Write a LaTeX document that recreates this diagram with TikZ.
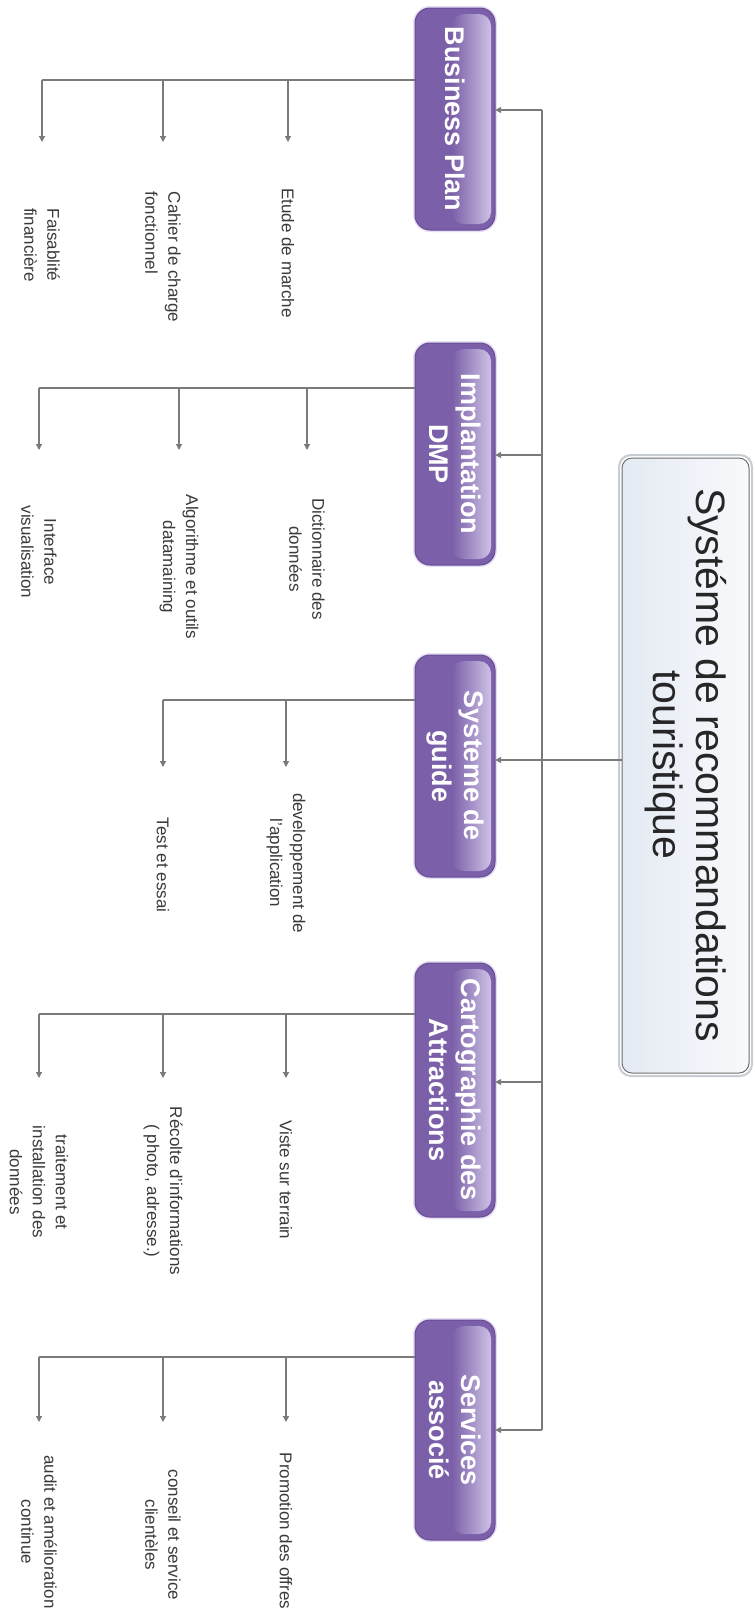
\documentclass[tikz,border=0pt]{standalone}
\usepackage{fontspec}
\setmainfont{Liberation Sans}
\usetikzlibrary{arrows.meta,calc}

\definecolor{phasefill}{HTML}{7B60A9}
\definecolor{phaseedge}{HTML}{674C95}
\definecolor{phaselight}{HTML}{CDC1E5}
\definecolor{phaseglow}{HTML}{E6DEF3}
\definecolor{rootedge}{HTML}{6E6E6E}
\definecolor{rootframe}{HTML}{C7CBD2}
\definecolor{rootleft}{HTML}{E4EAF3}
\definecolor{rootright}{HTML}{F8F9FC}
\definecolor{wire}{HTML}{7A7A7A}
\definecolor{leaftext}{HTML}{3A3A3A}

\tikzset{
  phaseglowbox/.style={draw=phaseglow, line width=4pt, rounded corners=15pt},
  phasebox/.style={fill=phasefill, draw=phaseedge, line width=1pt, rounded corners=15pt},
  gloss/.style={left color=phasefill, right color=phaselight, rounded corners=12pt},
  phaselabel/.style={rotate=-90, minimum height=80pt, inner sep=0pt, align=center,
    text=white, font=\bfseries\fontsize{27}{32}\selectfont},
  leaf/.style={rotate=-90, inner sep=0pt, align=center, text=leaftext,
    font=\fontsize{17}{23}\selectfont},
  conn/.style={draw=wire, line width=1.2pt},
  arr/.style={conn, -{Triangle[length=6pt,width=6pt]}},
}

% one purple phase box: name, top, bottom, label
\newcommand\mkphase[4]{%
  \path[phaseglowbox] (415,#2) rectangle (495,#3);
  \path[phasebox] (415,#2) rectangle (495,#3);
  \shade[gloss] (452,{#2+6}) rectangle (491,{#3-6});
  \node[phaselabel, minimum width={(#3-#2)*1pt}] (#1) at (455,{(#2+#3)/2}) {#4};
}

\begin{document}
\begin{tikzpicture}[x=1pt,y=-1pt]
\useasboundingbox (0,0) rectangle (755,1620);
\fill[white] (0,0) rectangle (755,1620);

% root box
\path[draw=rootframe, line width=2pt, rounded corners=12pt] (619,455) rectangle (752,1076);
\shadedraw[left color=rootleft, right color=rootright, draw=rootedge, line width=1pt,
  rounded corners=10pt] (622,458) rectangle (749,1073);
\node[rotate=-90, minimum width=615pt, minimum height=127pt, inner sep=0pt, align=center,
  text=black!85, font=\fontsize{41}{43}\selectfont] (root) at (685.5,765)
  {Systéme de recommandations\\touristique};

% phase boxes
\mkphase{bp}{8}{230}{Business Plan}
\mkphase{im}{343}{565}{Implantation\\DMP}
\mkphase{sg}{655}{877}{Systeme de\\guide}
\mkphase{ca}{963}{1217}{Cartographie des\\Attractions}
\mkphase{sv}{1320}{1540}{Services\\associé}

% trunk from the root to every phase
\coordinate (t1) at (542,110);
\coordinate (t2) at (542,455);
\coordinate (t3) at (542,760);
\coordinate (t4) at (542,1082);
\coordinate (t5) at (542,1430);
\draw[conn] (t1) -- (t5);
\draw[arr] (t3 -| root.south) -- (t3 -| sg.north);
\draw[arr] (t1) -- (t1 -| bp.north);
\draw[arr] (t2) -- (t2 -| im.north);
\draw[arr] (t4) -- (t4 -| ca.north);
\draw[arr] (t5) -- (t5 -| sv.north);

% tasks
\node[leaf] (bp1) at (288,253) {Etude de marche};
\node[leaf, align=left] (bp2) at (163,257) {Cahier de charge\\fonctionnel};
\node[leaf] (bp3) at (42,245) {Faisablité\\financière};

\node[leaf] (im1) at (307,559) {Dictionnaire des\\données};
\node[leaf] (im2) at (179,567) {Algorithme et outils\\datamaining};
\node[leaf] (im3) at (39,552) {Interface\\visualisation};

\node[leaf] (sg1) at (286,863) {developpement de\\l'application};
\node[leaf] (sg2) at (163,865) {Test et essai};

\node[leaf] (ca1) at (286,1180) {Viste sur terrain};
\node[leaf] (ca2) at (163,1191) {Récolte d'informations\\( photo, adresse.)};
\node[leaf] (ca3) at (39,1182) {traitement et\\installation des\\données};

\node[leaf] (sv1) at (286,1531) {Promotion des offres};
\node[leaf] (sv2) at (163,1535) {conseil et service\\clientèles};
\node[leaf] (sv3) at (39,1532) {audit et amélioration\\continue};

% branch buses and their tips
\coordinate (bpbus) at (0,80);   \coordinate (bptip) at (0,142);
\coordinate (imbus) at (0,388);  \coordinate (imtip) at (0,450);
\coordinate (sgbus) at (0,700);  \coordinate (sgtip) at (0,767);
\coordinate (cabus) at (0,1014); \coordinate (catip) at (0,1078);
\coordinate (svbus) at (0,1357); \coordinate (svtip) at (0,1422);

\draw[conn] (bpbus -| bp.south) -- (bpbus -| bp3);
\foreach \n in {bp1,bp2,bp3} \draw[arr] (\n |- bpbus) -- (\n |- bptip);

\draw[conn] (imbus -| im.south) -- (imbus -| im3);
\foreach \n in {im1,im2,im3} \draw[arr] (\n |- imbus) -- (\n |- imtip);

\draw[conn] (sgbus -| sg.south) -- (sgbus -| sg2);
\foreach \n in {sg1,sg2} \draw[arr] (\n |- sgbus) -- (\n |- sgtip);

\draw[conn] (cabus -| ca.south) -- (cabus -| ca3);
\foreach \n in {ca1,ca2,ca3} \draw[arr] (\n |- cabus) -- (\n |- catip);

\draw[conn] (svbus -| sv.south) -- (svbus -| sv3);
\foreach \n in {sv1,sv2,sv3} \draw[arr] (\n |- svbus) -- (\n |- svtip);
\end{tikzpicture}
\end{document}
